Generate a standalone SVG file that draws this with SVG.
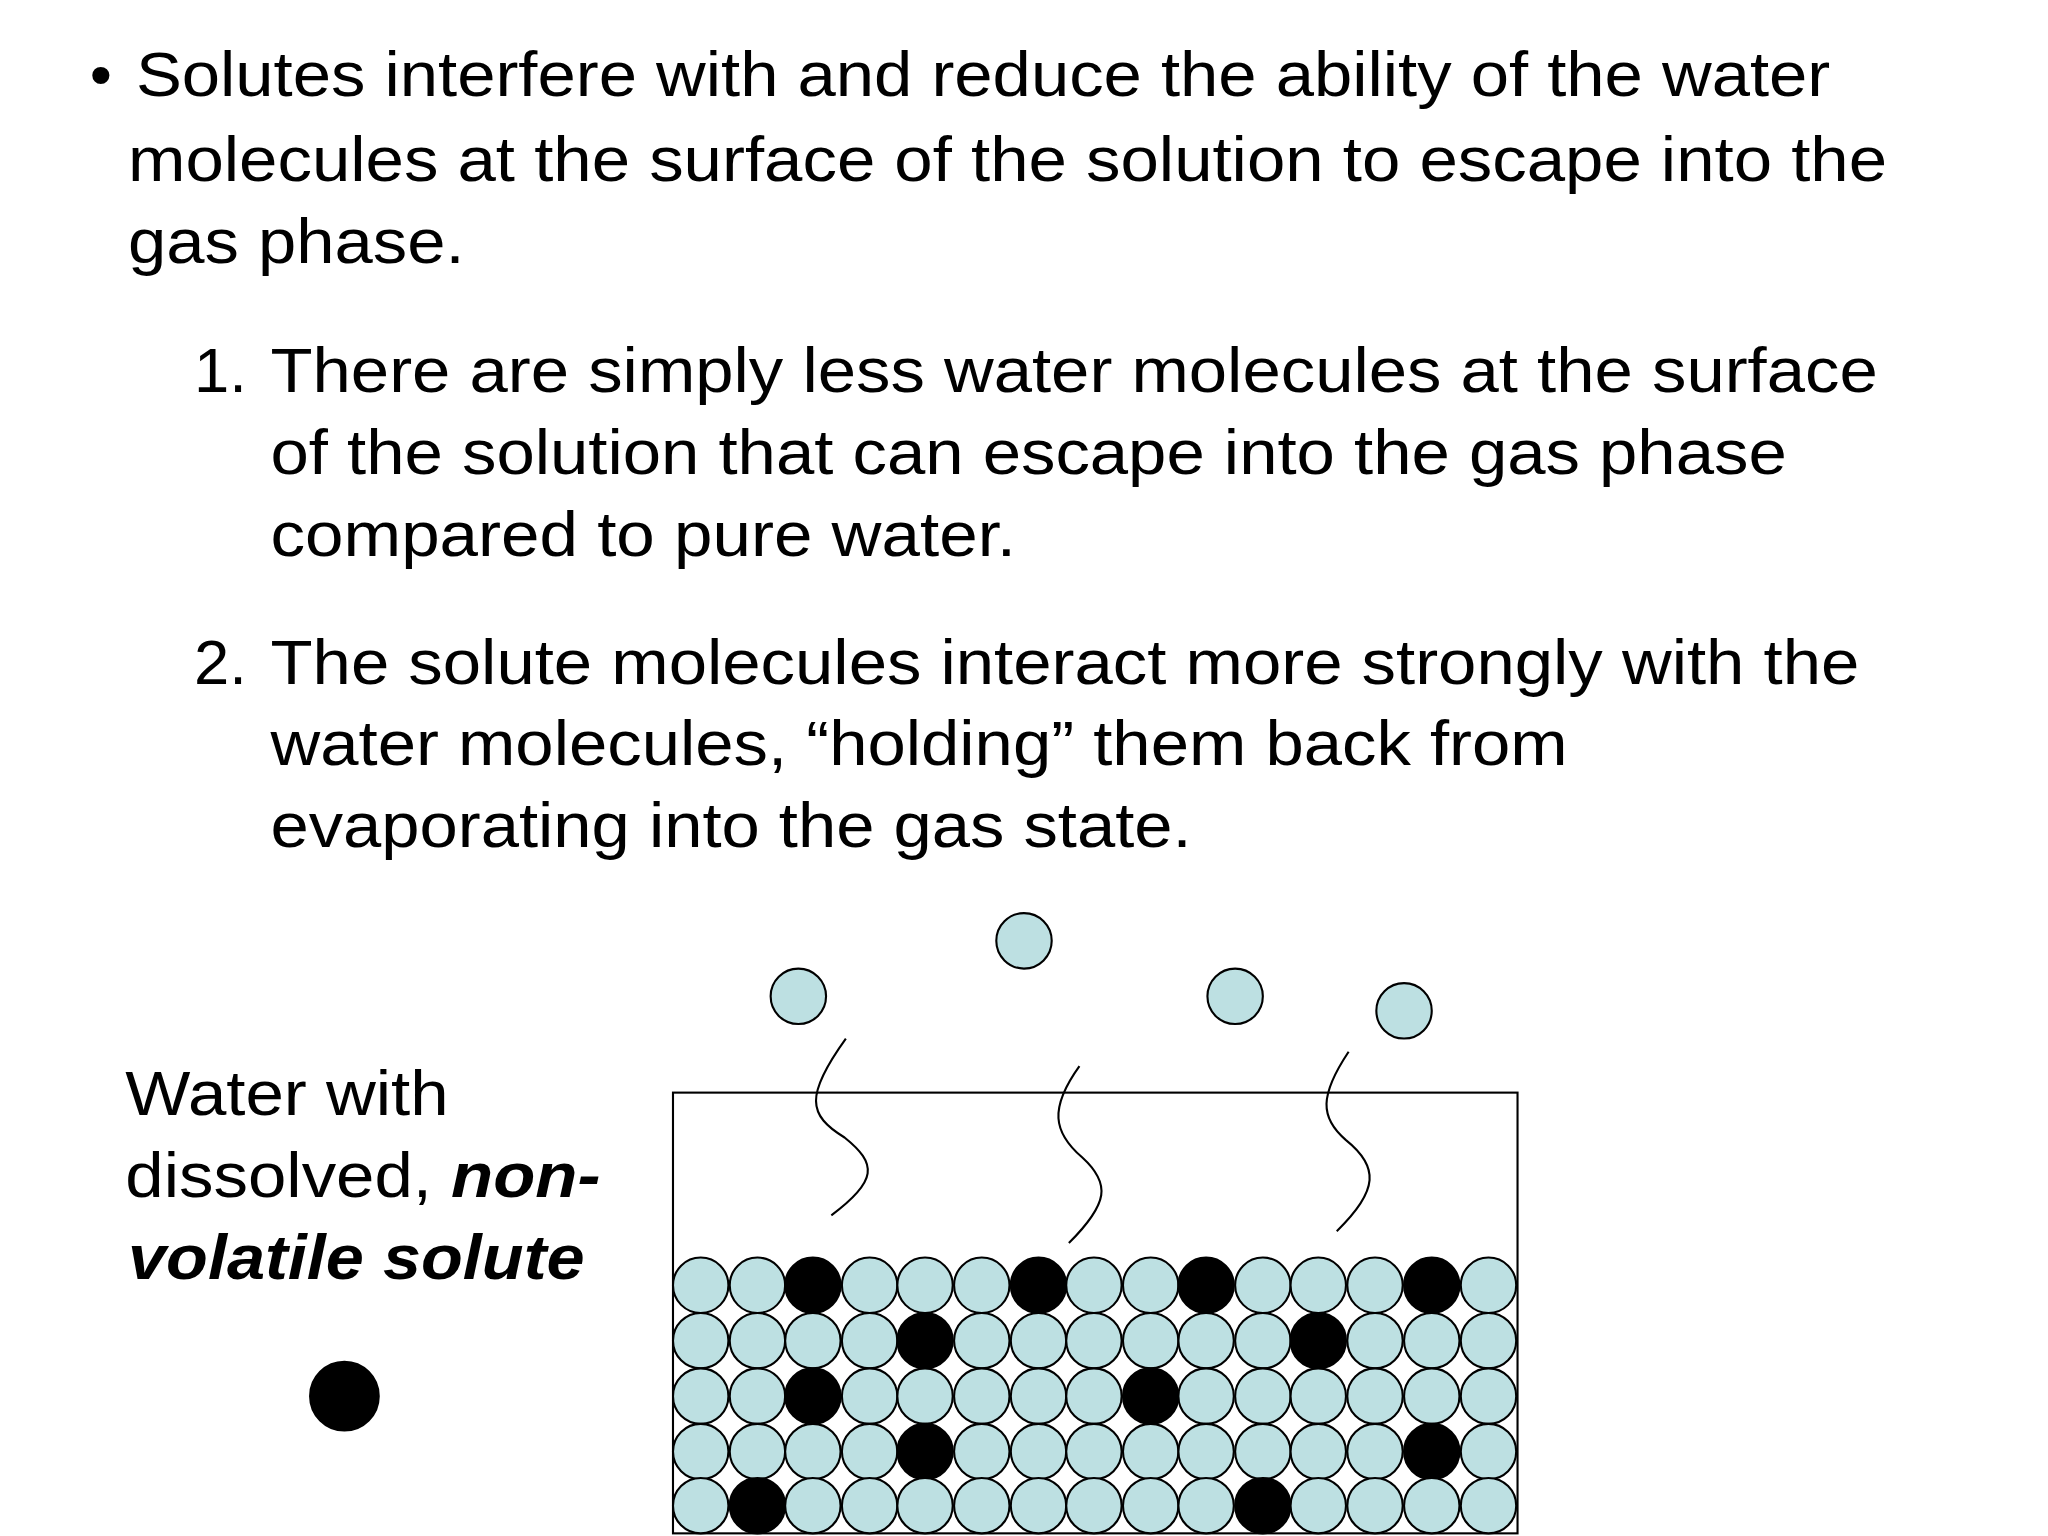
<svg xmlns="http://www.w3.org/2000/svg" width="2048" height="1536" viewBox="0 0 2048 1536">
<style>
text{font-family:"Liberation Sans",Arial,sans-serif;font-size:48px;fill:#000}
.w{fill:#bde0e2;stroke:#000;stroke-width:1.6}
.s{fill:#000;stroke:#000;stroke-width:1.6}
.q{fill:none;stroke:#000;stroke-width:1.6}
</style>
<rect width="2048" height="1536" fill="#fff"/>
<g transform="scale(1.31959)">
<g id="text">
<text x="68" y="73">•</text>
<text x="103" y="73" textLength="1284" lengthAdjust="spacingAndGlyphs">Solutes interfere with and reduce the ability of the water</text>
<text x="97" y="137" textLength="1333" lengthAdjust="spacingAndGlyphs">molecules at the surface of the solution to escape into the</text>
<text x="97" y="199" textLength="255" lengthAdjust="spacingAndGlyphs">gas phase.</text>
<text x="147" y="297">1.</text>
<text x="205" y="297" textLength="1218" lengthAdjust="spacingAndGlyphs">There are simply less water molecules at the surface</text>
<text x="205" y="359" textLength="1149" lengthAdjust="spacingAndGlyphs">of the solution that can escape into the gas phase</text>
<text x="205" y="421" textLength="565" lengthAdjust="spacingAndGlyphs">compared to pure water.</text>
<text x="147" y="518">2.</text>
<text x="205" y="518" textLength="1204" lengthAdjust="spacingAndGlyphs">The solute molecules interact more strongly with the</text>
<text x="205" y="580" textLength="983" lengthAdjust="spacingAndGlyphs">water molecules, “holding” them back from</text>
<text x="205" y="642" textLength="698" lengthAdjust="spacingAndGlyphs">evaporating into the gas state.</text>
</g>
<g id="label">
<text x="95" y="845" textLength="245" lengthAdjust="spacingAndGlyphs">Water with</text>
<text x="95" y="907" textLength="360" lengthAdjust="spacingAndGlyphs">dissolved, <tspan font-weight="bold" font-style="italic">non-</tspan></text>
<text x="97" y="969" font-weight="bold" font-style="italic" textLength="346" lengthAdjust="spacingAndGlyphs">volatile solute</text>
<circle class="s" cx="261" cy="1058" r="26"/>
</g>
<g id="gas">
<circle class="w" cx="605" cy="755" r="21"/>
<circle class="w" cx="776" cy="713" r="21"/>
<circle class="w" cx="936" cy="755" r="21"/>
<circle class="w" cx="1064" cy="766" r="21"/>
</g>
<g id="connectors">
<path class="q" d="M641,787 C610,830 612,845 640,862 C665,882 665,895 630,921"/>
<path class="q" d="M818,808 C795,840 798,858 820,877 C842,897 840,912 810,942"/>
<path class="q" d="M1022,797 C1000,830 1000,847 1020,864 C1045,884 1045,902 1013,933"/>
</g>
<g id="container">
<rect x="510" y="828" width="640" height="334" fill="none" stroke="#000" stroke-width="1.6"/>
</g>
<g id="solution">
<g id="r0">
<circle class="w" cx="531" cy="974" r="21"/><circle class="w" cx="574" cy="974" r="21"/><circle class="s" cx="616" cy="974" r="21"/><circle class="w" cx="659" cy="974" r="21"/><circle class="w" cx="701" cy="974" r="21"/><circle class="w" cx="744" cy="974" r="21"/><circle class="s" cx="787" cy="974" r="21"/><circle class="w" cx="829" cy="974" r="21"/><circle class="w" cx="872" cy="974" r="21"/><circle class="s" cx="914" cy="974" r="21"/><circle class="w" cx="957" cy="974" r="21"/><circle class="w" cx="999" cy="974" r="21"/><circle class="w" cx="1042" cy="974" r="21"/><circle class="s" cx="1085" cy="974" r="21"/><circle class="w" cx="1128" cy="974" r="21"/>
</g>
<g id="r1">
<circle class="w" cx="531" cy="1016" r="21"/><circle class="w" cx="574" cy="1016" r="21"/><circle class="w" cx="616" cy="1016" r="21"/><circle class="w" cx="659" cy="1016" r="21"/><circle class="s" cx="701" cy="1016" r="21"/><circle class="w" cx="744" cy="1016" r="21"/><circle class="w" cx="787" cy="1016" r="21"/><circle class="w" cx="829" cy="1016" r="21"/><circle class="w" cx="872" cy="1016" r="21"/><circle class="w" cx="914" cy="1016" r="21"/><circle class="w" cx="957" cy="1016" r="21"/><circle class="s" cx="999" cy="1016" r="21"/><circle class="w" cx="1042" cy="1016" r="21"/><circle class="w" cx="1085" cy="1016" r="21"/><circle class="w" cx="1128" cy="1016" r="21"/>
</g>
<g id="r2">
<circle class="w" cx="531" cy="1058" r="21"/><circle class="w" cx="574" cy="1058" r="21"/><circle class="s" cx="616" cy="1058" r="21"/><circle class="w" cx="659" cy="1058" r="21"/><circle class="w" cx="701" cy="1058" r="21"/><circle class="w" cx="744" cy="1058" r="21"/><circle class="w" cx="787" cy="1058" r="21"/><circle class="w" cx="829" cy="1058" r="21"/><circle class="s" cx="872" cy="1058" r="21"/><circle class="w" cx="914" cy="1058" r="21"/><circle class="w" cx="957" cy="1058" r="21"/><circle class="w" cx="999" cy="1058" r="21"/><circle class="w" cx="1042" cy="1058" r="21"/><circle class="w" cx="1085" cy="1058" r="21"/><circle class="w" cx="1128" cy="1058" r="21"/>
</g>
<g id="r3">
<circle class="w" cx="531" cy="1100" r="21"/><circle class="w" cx="574" cy="1100" r="21"/><circle class="w" cx="616" cy="1100" r="21"/><circle class="w" cx="659" cy="1100" r="21"/><circle class="s" cx="701" cy="1100" r="21"/><circle class="w" cx="744" cy="1100" r="21"/><circle class="w" cx="787" cy="1100" r="21"/><circle class="w" cx="829" cy="1100" r="21"/><circle class="w" cx="872" cy="1100" r="21"/><circle class="w" cx="914" cy="1100" r="21"/><circle class="w" cx="957" cy="1100" r="21"/><circle class="w" cx="999" cy="1100" r="21"/><circle class="w" cx="1042" cy="1100" r="21"/><circle class="s" cx="1085" cy="1100" r="21"/><circle class="w" cx="1128" cy="1100" r="21"/>
</g>
<g id="r4">
<circle class="w" cx="531" cy="1141" r="21"/><circle class="s" cx="574" cy="1141" r="21"/><circle class="w" cx="616" cy="1141" r="21"/><circle class="w" cx="659" cy="1141" r="21"/><circle class="w" cx="701" cy="1141" r="21"/><circle class="w" cx="744" cy="1141" r="21"/><circle class="w" cx="787" cy="1141" r="21"/><circle class="w" cx="829" cy="1141" r="21"/><circle class="w" cx="872" cy="1141" r="21"/><circle class="w" cx="914" cy="1141" r="21"/><circle class="s" cx="957" cy="1141" r="21"/><circle class="w" cx="999" cy="1141" r="21"/><circle class="w" cx="1042" cy="1141" r="21"/><circle class="w" cx="1085" cy="1141" r="21"/><circle class="w" cx="1128" cy="1141" r="21"/>
</g>
</g>
</g>
</svg>
